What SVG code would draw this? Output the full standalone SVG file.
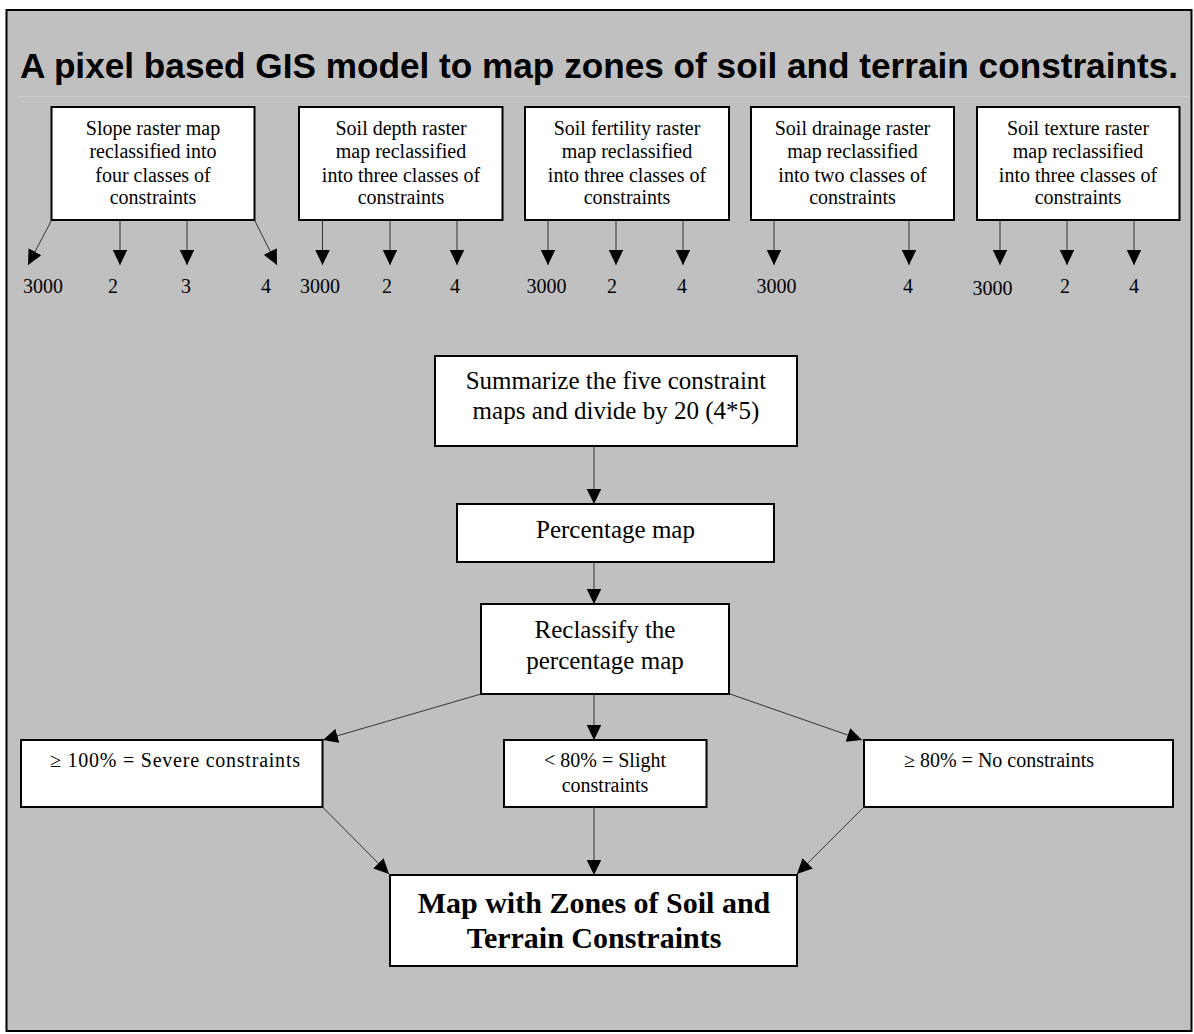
<svg xmlns="http://www.w3.org/2000/svg" width="1194" height="1034" viewBox="0 0 1194 1034">
<defs>
<marker id="ah" markerUnits="userSpaceOnUse" markerWidth="16" markerHeight="15" refX="15" refY="7.25" orient="auto">
<path d="M0,0 L15,7.25 L0,14.5 z" fill="#000"/>
</marker>
<style>
.box{fill:#fff;stroke:#000;stroke-width:2}
.t{font-family:"Liberation Serif","Times New Roman",serif;font-size:20px;fill:#000;text-anchor:middle}
.m{font-family:"Liberation Serif","Times New Roman",serif;font-size:25px;fill:#000;text-anchor:middle}
.b{font-family:"Liberation Serif","Times New Roman",serif;font-size:30px;font-weight:bold;fill:#000;text-anchor:middle}
.c{stroke:#333;stroke-width:1;fill:none;marker-end:url(#ah)}
</style>
</defs>
<rect x="0" y="0" width="1194" height="1034" fill="#fff"/>
<rect x="6.5" y="10" width="1185" height="1021" fill="#c0c0c0" stroke="#000" stroke-width="2"/>
<text x="20" y="78" font-family="'Liberation Sans',Arial,sans-serif" font-size="35" font-weight="bold" fill="#000" textLength="1158" lengthAdjust="spacingAndGlyphs">A pixel based GIS model to map zones of soil and terrain constraints.</text>
<line x1="18" y1="96.5" x2="1190" y2="96.5" stroke="#cdcdcd" stroke-width="1"/>

<g id="slope">
<rect class="box" x="51.5" y="107" width="203" height="113"/>
<text class="t" x="153" y="135">Slope raster map</text>
<text class="t" x="153" y="158">reclassified into</text>
<text class="t" x="153" y="182">four classes of</text>
<text class="t" x="153" y="204">constraints</text>
</g>
<g id="depth">
<rect class="box" x="299" y="107" width="203.5" height="113"/>
<text class="t" x="401" y="135">Soil depth raster</text>
<text class="t" x="401" y="158">map reclassified</text>
<text class="t" x="401" y="182">into three classes of</text>
<text class="t" x="401" y="204">constraints</text>
</g>
<g id="fertility">
<rect class="box" x="525" y="107" width="204" height="113"/>
<text class="t" x="627" y="135">Soil fertility raster</text>
<text class="t" x="627" y="158">map reclassified</text>
<text class="t" x="627" y="182">into three classes of</text>
<text class="t" x="627" y="204">constraints</text>
</g>
<g id="drainage">
<rect class="box" x="751" y="107" width="203" height="113"/>
<text class="t" x="852.5" y="135">Soil drainage raster</text>
<text class="t" x="852.5" y="158">map reclassified</text>
<text class="t" x="852.5" y="182">into two classes of</text>
<text class="t" x="852.5" y="204">constraints</text>
</g>
<g id="texture">
<rect class="box" x="977" y="107" width="202.5" height="113"/>
<text class="t" x="1078" y="135">Soil texture raster</text>
<text class="t" x="1078" y="158">map reclassified</text>
<text class="t" x="1078" y="182">into three classes of</text>
<text class="t" x="1078" y="204">constraints</text>
</g>

<g id="class-labels">
<text class="t" x="43" y="293">3000</text>
<text class="t" x="113" y="293">2</text>
<text class="t" x="186" y="293">3</text>
<text class="t" x="266" y="293">4</text>
<text class="t" x="320" y="293">3000</text>
<text class="t" x="387" y="293">2</text>
<text class="t" x="455" y="293">4</text>
<text class="t" x="546.5" y="293">3000</text>
<text class="t" x="612" y="293">2</text>
<text class="t" x="682" y="293">4</text>
<text class="t" x="776.5" y="293">3000</text>
<text class="t" x="908" y="293">4</text>
<text class="t" x="992.5" y="295">3000</text>
<text class="t" x="1065" y="293">2</text>
<text class="t" x="1134" y="293">4</text>
</g>

<g id="summarize">
<rect class="box" x="435" y="356" width="362" height="90"/>
<text class="m" x="616" y="389">Summarize the five constraint</text>
<text class="m" x="616" y="419">maps and divide by 20 (4*5)</text>
</g>
<g id="percentage">
<rect class="box" x="457" y="504" width="317" height="58"/>
<text class="m" x="615.5" y="538">Percentage map</text>
</g>
<g id="reclassify">
<rect class="box" x="481" y="604" width="248" height="90"/>
<text class="m" x="605" y="638">Reclassify the</text>
<text class="m" x="605" y="669">percentage map</text>
</g>
<g id="severe">
<rect class="box" x="21" y="740" width="301.5" height="67"/>
<text class="t" x="175" y="767" textLength="250" lengthAdjust="spacing">≥ 100% = Severe constraints</text>
</g>
<g id="slight">
<rect class="box" x="504" y="740" width="202.5" height="67"/>
<text class="t" x="605" y="767">&lt; 80% = Slight</text>
<text class="t" x="605" y="792">constraints</text>
</g>
<g id="noconstraints">
<rect class="box" x="864" y="740" width="309" height="67"/>
<text class="t" x="999" y="767">≥ 80% = No constraints</text>
</g>
<g id="result">
<rect class="box" x="390" y="875" width="407" height="91"/>
<text class="b" x="594" y="913">Map with Zones of Soil and</text>
<text class="b" x="594" y="948">Terrain Constraints</text>
</g>

<g id="connectors">
<line class="c" x1="51.7" y1="220" x2="28" y2="265"/>
<line class="c" x1="120" y1="220" x2="120" y2="265"/>
<line class="c" x1="187" y1="220" x2="187" y2="265"/>
<line class="c" x1="254.5" y1="220" x2="277" y2="265"/>
<line class="c" x1="322.5" y1="220" x2="322.5" y2="265"/>
<line class="c" x1="390" y1="220" x2="390" y2="265"/>
<line class="c" x1="457" y1="220" x2="457" y2="265"/>
<line class="c" x1="548" y1="220" x2="548" y2="265"/>
<line class="c" x1="616" y1="220" x2="616" y2="265"/>
<line class="c" x1="683" y1="220" x2="683" y2="265"/>
<line class="c" x1="774" y1="220" x2="774" y2="265"/>
<line class="c" x1="909" y1="220" x2="909" y2="265"/>
<line class="c" x1="1000" y1="220" x2="1000" y2="265"/>
<line class="c" x1="1067" y1="220" x2="1067" y2="265"/>
<line class="c" x1="1134" y1="220" x2="1134" y2="265"/>
<line class="c" x1="594" y1="446" x2="594" y2="504"/>
<line class="c" x1="594" y1="562" x2="594" y2="604"/>
<line class="c" x1="481" y1="694" x2="323" y2="740"/>
<line class="c" x1="594" y1="694" x2="594" y2="740"/>
<line class="c" x1="730" y1="694" x2="862" y2="740"/>
<line class="c" x1="322.5" y1="807" x2="389" y2="874"/>
<line class="c" x1="594" y1="807" x2="594" y2="875"/>
<line class="c" x1="864" y1="807" x2="797" y2="874"/>
</g>
</svg>
